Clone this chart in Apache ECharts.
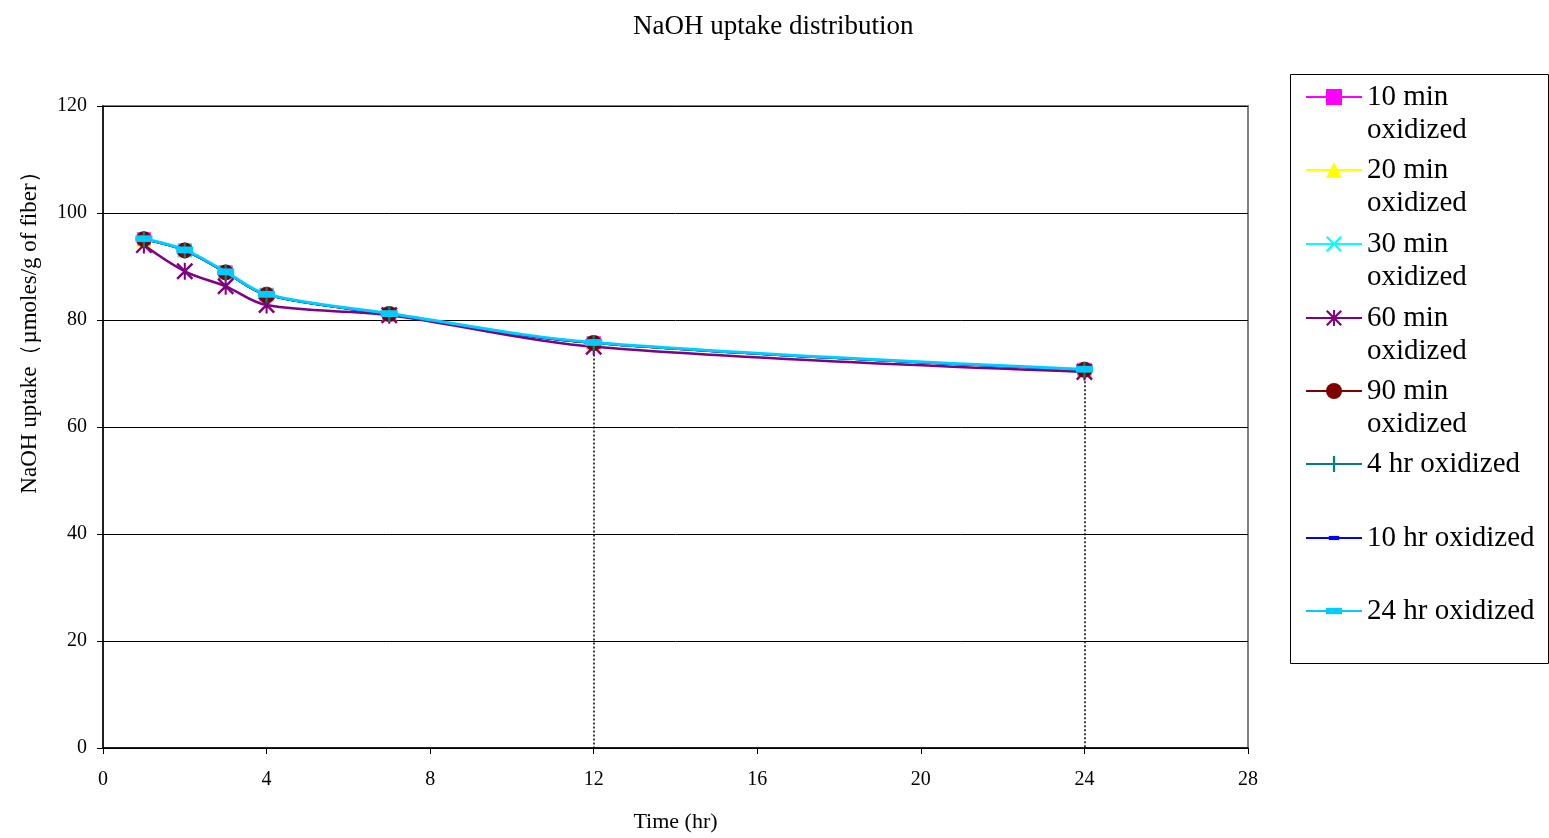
<!DOCTYPE html>
<html>
<head>
<meta charset="utf-8">
<script src="https://cdn.jsdelivr.net/npm/echarts@6/dist/echarts.min.js"></script>
<style>html,body{margin:0;padding:0;background:#fff}#c{width:1549px;height:838px}</style>
</head>
<body>
<div id="c"></div>
<script>
// ---- data ----
const timeHr = [1, 2, 3, 4, 7, 12, 24];
const seriesNames = ['10 min oxidized','20 min oxidized','30 min oxidized','60 min oxidized','90 min oxidized','4 hr oxidized','10 hr oxidized','24 hr oxidized'];
const legendLabels = ['10 min\noxidized','20 min\noxidized','30 min\noxidized','60 min\noxidized','90 min\noxidized','4 hr oxidized','10 hr oxidized','24 hr oxidized'];
const v10min = [95.1, 93.0, 88.9, 84.7, 81.1, 75.7, 70.7];
const v20min = [95.1, 93.0, 88.9, 84.7, 81.1, 75.7, 70.7];
const v30min = [95.1, 93.0, 88.9, 84.7, 81.1, 75.7, 70.7];
const v60min = [94.0, 89.1, 86.3, 82.8, 80.9, 75.0, 70.3];
const v90min = [95.1, 93.0, 88.9, 84.7, 81.1, 75.7, 70.7];
const v4hr  = [95.1, 93.0, 88.9, 84.7, 81.1, 75.7, 70.7];
const v10hr = [95.1, 93.0, 88.9, 84.7, 81.1, 75.7, 70.7];
const v24hr = [95.2, 93.1, 89.0, 84.8, 81.2, 75.8, 70.8];
const xTicks = [0, 4, 8, 12, 16, 20, 24, 28];
const yTicks = [0, 20, 40, 60, 80, 100, 120];
const dropTimes = [12, 24];

const values = [v10min, v20min, v30min, v60min, v90min, v4hr, v10hr, v24hr];
const colors = ['#FF00FF','#FFFF00','#00FFFF','#800080','#800000','#008080','#0000FF','#00CCFF'];
const symX = 'path://M0,1 L1,0 L5,4 L9,0 L10,1 L6,5 L10,9 L9,10 L5,6 L1,10 L0,9 L4,5 Z';
const symAst = 'path://M0,1 L1,0 L5,4 L9,0 L10,1 L6,5 L10,9 L9,10 L5,6 L1,10 L0,9 L4,5 Z M4.4,0 L5.6,0 L5.6,10 L4.4,10 Z';
const symPlus = 'path://M4.3,0 H5.7 V4.3 H10 V5.7 H5.7 V10 H4.3 V5.7 H0 V4.3 H4.3 Z';
const symBar = 'path://M0,0 M10,10 M0,3 H10 V7 H0 Z';
const symbols = ['rect','triangle',symX,symAst,'circle',symPlus,symBar,symBar];
const symSizes = [14,15,14,17,16,16,10,17];
const legendIconH = [20,20,20,20,20,20,13,20];
const lineWidths = [2,2,2,2.5,2,2,2,3];
const font = '"Liberation Serif","Times New Roman",serif';

const series = seriesNames.map((n,i)=>{
  const s = {
    name: n, type: 'line', smooth: 0.35,
    data: timeHr.map((t,j)=>[t, values[i][j]]),
    symbol: symbols[i], symbolSize: symSizes[i],
    itemStyle: {color: colors[i], borderWidth: 0},
    lineStyle: {color: colors[i], width: lineWidths[i]},
    z: 3 + i, animation: false
  };
  if (i === 7) {
    s.markLine = {
      silent: true, symbol: 'none', label: {show: false},
      lineStyle: {color: '#000', type: [2,2], width: 1.5},
      data: dropTimes.map(t=>{
        const y = values[i][timeHr.indexOf(t)];
        return [{coord:[t, y]}, {coord:[t, 0]}];
      })
    };
  }
  return s;
});

const centers = [97,170,244,318,391,464,538,611];
const legends = seriesNames.map((n,i)=>{
  const two = legendLabels[i].indexOf('\n') >= 0;
  return {
    data: [n], left: 1305, top: two ? centers[i]-49.5 : centers[i]-16.5,
    orient: 'vertical', padding: 0, itemWidth: 56, itemHeight: legendIconH[i], itemGap: 0,
    formatter: ()=> two ? '\n' + legendLabels[i] : legendLabels[i], selectedMode: false,
    textStyle: {fontFamily: font, fontSize: 29, lineHeight: 33, color: '#000'}
  };
});

const chart = echarts.init(document.getElementById('c'), null, {renderer:'canvas'});
chart.setOption({
  backgroundColor: '#fff',
  animation: false,
  title: {text: 'NaOH uptake distribution', left: 628, top: 8,
    textStyle: {fontFamily: font, fontSize: 27, fontWeight: 'normal', color: '#000'}},
  legend: legends,
  graphic: [{type:'rect', shape:{x:1290.5, y:74.5, width:258, height:589},
    style:{fill:'none', stroke:'#000', lineWidth:1}, z: 0}],
  grid: {left: 103, right: 301, top: 106, bottom: 86, show: true, borderColor: '#808080', borderWidth: 2},
  xAxis: {type: 'value', min: xTicks[0], max: xTicks[xTicks.length-1], interval: 4,
    name: 'Time (hr)', nameLocation: 'middle', nameGap: 63,
    nameTextStyle: {fontFamily: font, fontSize: 22, color: '#000'},
    axisLine: {lineStyle: {color: '#000', width: 1.5}},
    axisTick: {show: true, length: 6, inside: false, lineStyle: {color:'#000'}},
    axisLabel: {fontFamily: font, fontSize: 20, color: '#000', margin: 22},
    splitLine: {show: false}},
  yAxis: {type: 'value', min: yTicks[0], max: yTicks[yTicks.length-1], interval: 20,
    name: 'NaOH uptake（µmoles/g of fiber）', nameLocation: 'middle', nameGap: 62,
    nameTextStyle: {fontFamily: font, fontSize: 23, color: '#000', padding: [0,0,0,200]},
    axisLine: {show: true, lineStyle: {color: '#000', width: 1.5}},
    axisTick: {show: true, length: 6, lineStyle: {color:'#000'}},
    axisLabel: {fontFamily: font, fontSize: 20, color: '#000', margin: 16},
    splitLine: {show: true, lineStyle: {color: '#000', width: 1}}},
  series: series
});
</script>
</body>
</html>
